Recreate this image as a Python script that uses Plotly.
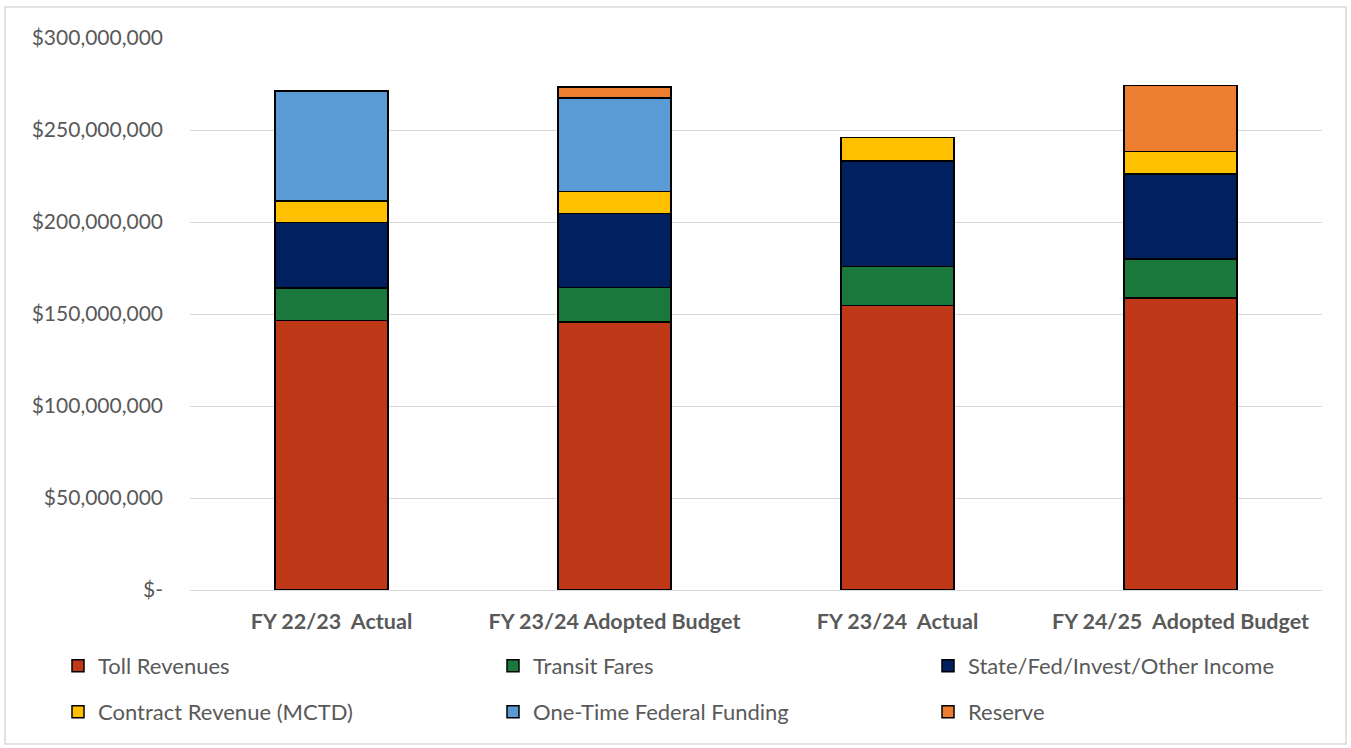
import plotly.graph_objects as go

# Revenue sources by fiscal year (US dollars)
categories = ["FY 22/23  Actual", "FY 23/24 Adopted Budget", "FY 23/24  Actual", "FY 24/25  Adopted Budget"]
toll_revenues = [146_400_000, 145_700_000, 154_500_000, 158_700_000]
transit_fares = [17_600_000, 18_600_000, 21_200_000, 21_200_000]
state_fed_other = [35_600_000, 40_400_000, 57_500_000, 46_200_000]
contract_revenue = [11_800_000, 11_800_000, 12_600_000, 12_100_000]
one_time_federal = [59_800_000, 50_900_000, 0, 0]
reserve = [0, 6_100_000, 0, 35_900_000]

tick_values = [0, 50_000_000, 100_000_000, 150_000_000, 200_000_000, 250_000_000, 300_000_000]
tick_labels = ["$-", "$50,000,000", "$100,000,000", "$150,000,000",
               "$200,000,000", "$250,000,000", "$300,000,000"]

series = [
    ("Toll Revenues", toll_revenues, "#BF3817"),
    ("Transit Fares", transit_fares, "#1B783C"),
    ("State/Fed/Invest/Other Income", state_fed_other, "#002060"),
    ("Contract Revenue (MCTD)", contract_revenue, "#FFC000"),
    ("One-Time Federal Funding", one_time_federal, "#5B9BD5"),
    ("Reserve", reserve, "#ED7D31"),
]

FONT = "Lato, 'Open Sans', sans-serif"
GREY = "#595959"

L, R, T, B = 190, 29, 38, 158
W, H = 1351, 748
pw, ph = W - L - R, H - T - B

# legend grid: three columns, two rows (pixel positions of each entry)
legend_cols = [58, 493, 928]
legend_rows = [666, 712]

fig = go.Figure()
legends = {}
for i, (name, values, color) in enumerate(series):
    key = "legend" if i == 0 else f"legend{i + 1}"
    fig.add_trace(go.Bar(
        name=name,
        x=categories,
        y=values,
        marker=dict(color=color, line=dict(color="#000000", width=1.5)),
        legend=key,
        showlegend=True,
    ))
    col, row = i % 3, i // 3
    legends[key] = dict(
        orientation="h",
        xanchor="left",
        yanchor="middle",
        x=(legend_cols[col] - L) / pw,
        y=(T + ph - legend_rows[row]) / ph,
        font=dict(family=FONT, size=22, color=GREY),
        bgcolor="rgba(0,0,0,0)",
        itemclick=False,
        itemdoubleclick=False,
        visible=True,
    )

fig.update_layout(
    width=W,
    height=H,
    showlegend=True,
    margin=dict(l=L, r=R, t=T, b=B, autoexpand=False),
    paper_bgcolor="#FFFFFF",
    plot_bgcolor="#FFFFFF",
    barmode="stack",
    bargap=0.6,
    font=dict(family=FONT, color=GREY),
    xaxis=dict(
        showgrid=False,
        showline=False,
        ticks="",
        automargin=False,
        ticklabelstandoff=16,
        tickfont=dict(family=FONT, size=21.5, color=GREY, weight="bold"),
    ),
    yaxis=dict(
        range=[0, 300_000_000],
        tickvals=tick_values,
        ticktext=tick_labels,
        showgrid=True,
        gridcolor="#D9D9D9",
        gridwidth=1,
        zeroline=True,
        zerolinecolor="#D9D9D9",
        zerolinewidth=1,
        showline=False,
        ticks="",
        automargin=False,
        ticklabelstandoff=26,
        tickfont=dict(family=FONT, size=21, color=GREY),
    ),
    shapes=[dict(
        type="rect",
        xref="paper", yref="paper",
        x0=(5 - L) / pw, x1=(W - 5 - L) / pw,
        y0=(T + ph - (H - 4)) / ph, y1=(T + ph - 7) / ph,
        line=dict(color="#D9D9D9", width=1.5),
        fillcolor="rgba(0,0,0,0)",
        layer="below",
    )],
    **legends,
)

fig.write_html("out.html")
